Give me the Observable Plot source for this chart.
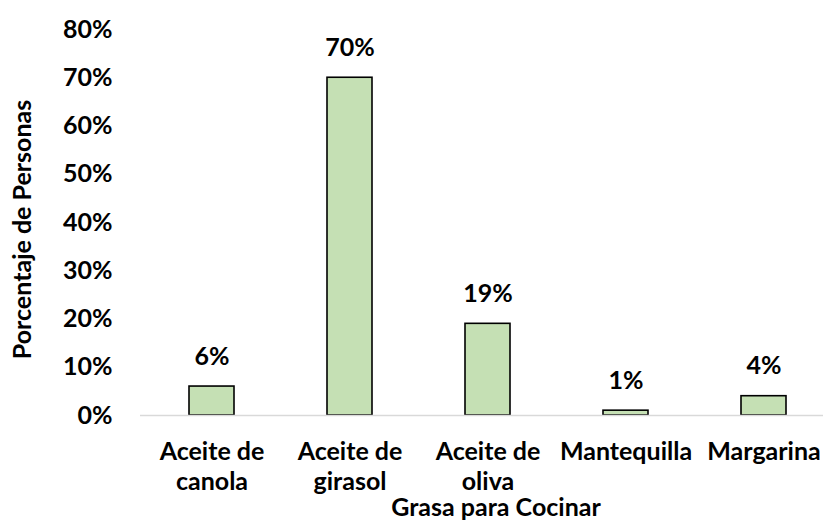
<!DOCTYPE html>
<html>
<head>
<meta charset="utf-8">
<script src="https://cdn.jsdelivr.net/npm/d3@7"></script>
<script src="https://cdn.jsdelivr.net/npm/@observablehq/plot@0.6"></script>
<style>
  html, body { margin: 0; padding: 0; background: #fff; }
  #chart svg { display: block; }
</style>
</head>
<body>
<div id="chart"></div>
<script>
const categories = ["Aceite de canola", "Aceite de girasol", "Aceite de oliva", "Mantequilla", "Margarina"];
const tickLabels = ["Aceite de\ncanola", "Aceite de\ngirasol", "Aceite de\noliva", "Mantequilla", "Margarina"];
const values = [0.06, 0.70, 0.19, 0.01, 0.04];
const valueLabels = ["6%", "70%", "19%", "1%", "4%"];
const yTicks = [0, 0.1, 0.2, 0.3, 0.4, 0.5, 0.6, 0.7, 0.8];
const yTitle = "Porcentaje de Personas";
const xTitle = "Grasa para Cocinar";

const data = categories.map((c, i) => ({cat: c, value: values[i], label: valueLabels[i], tick: tickLabels[i]}));
const FONT = "Lato, 'Open Sans', sans-serif";
const FS = 25;

const chart = Plot.plot({
  width: 823,
  height: 522,
  marginLeft: 140,
  marginRight: 0,
  marginTop: 29,
  marginBottom: 107,
  style: {fontFamily: FONT, fontWeight: "bold", fontSize: FS + "px", color: "#000", background: "#fff"},
  x: {domain: categories, paddingInner: 0.676, paddingOuter: 0.295, align: 0.57, axis: null},
  y: {domain: [0, 0.8], ticks: yTicks},
  marks: [
    Plot.barY(data, {x: "cat", y: "value", fill: "#c5e0b4", stroke: "#000", strokeWidth: 1.6}),
    Plot.ruleY([0], {stroke: "#d9d9d9", strokeWidth: 1.6}),
    Plot.axisY({ticks: yTicks, tickSize: 0, tickPadding: 28, tickFormat: d => Math.round(d * 100) + "%", label: null, fontSize: FS, fontWeight: "bold"}),
    Plot.text(data, {x: "cat", y: "value", text: "label", dy: -30, lineAnchor: "middle", fontSize: FS, fontWeight: "bold", fill: "#000"}),
    Plot.text(data, {x: "cat", text: "tick", frameAnchor: "bottom", dy: 23, lineAnchor: "top", lineHeight: 1.2, fontSize: FS, fontWeight: "bold", fill: "#000"}),
    Plot.text([xTitle], {frameAnchor: "bottom", textAnchor: "middle", dx: 14, dy: 92, lineAnchor: "middle", fontSize: FS, fontWeight: "bold", fill: "#000"}),
    Plot.text([yTitle], {frameAnchor: "left", textAnchor: "middle", dx: -118, dy: 7, rotate: -90, lineAnchor: "middle", fontSize: FS, fontWeight: "bold", fill: "#000", letterSpacing: "0.4px"})
  ]
});
document.getElementById("chart").appendChild(chart);
</script>
</body>
</html>
